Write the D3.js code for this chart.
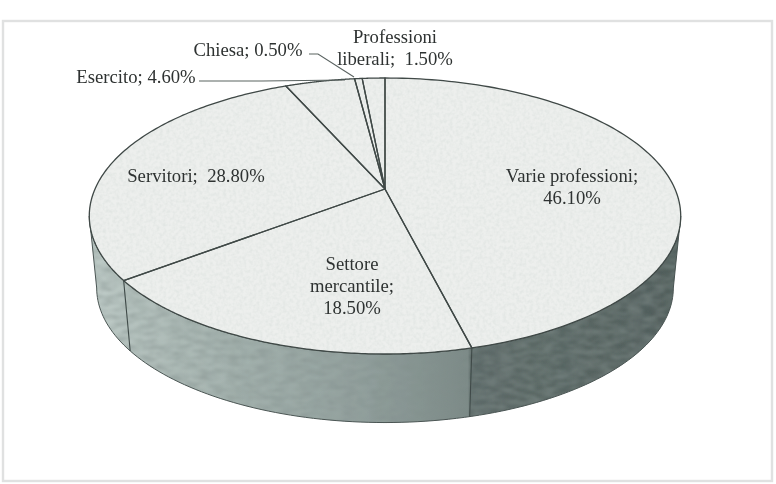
<!DOCTYPE html>
<html><head><meta charset="utf-8">
<script src="https://cdn.jsdelivr.net/npm/d3@7"></script>
<style>html,body{margin:0;padding:0;background:#fff}svg{display:block}text{font-family:"Liberation Serif",serif;font-size:18.7px;fill:#2e3231}</style>
</head><body><svg id="c" width="776" height="484"></svg>
<script>
const categories=["Varie professioni","Settore mercantile","Servitori","Esercito","Chiesa","Professioni liberali"];
const values=[46.1,18.5,28.8,4.6,0.5,1.5];
const labelLines=[["Varie professioni;","46.10%"],["Settore","mercantile;","18.50%"],["Servitori;  28.80%"],["Esercito; 4.60%"],["Chiesa; 0.50%"],["Professioni","liberali;  1.50%"]];
const labelAnchors=[[572,182],[352,270],[196,182],[136,83],[248,56],[395,43]];
const leaderPaths=[null,null,null,[[199,81],[262,81],[345,80]],[[309,54],[318,54],[354,77]],null];

const svg=d3.select("#c");
const defs=svg.append("defs");
svg.append("rect").attr("x",3).attr("y",21).attr("width",769).attr("height",460).attr("fill","#fff").attr("stroke","#e0e1e1").attr("stroke-width",2.4);

const cx=385,cyTop=216,ry=138,rx=290,persp=27/138,depth=72,shrink=0.975;
const proj=(a,r=1,bottom=false)=>{
  const u=Math.sin(a)*r,v=Math.cos(a)*r,d=1+persp*v;
  const X=rx*u/d,Y=(ry*v+27)/d;
  return bottom?[cx+X*shrink,cyTop+depth-Y*shrink]:[cx+X,cyTop-Y];
};
const arcs=d3.pie().sort(null).value(d=>d)(values);
const line=d3.line();
const sample=(a0,a1,bottom=false)=>d3.range(0,121).map(i=>proj(a0+(a1-a0)*i/120,1,bottom));

const grain=defs.append("filter").attr("id","grain").attr("x",0).attr("y",0).attr("width",1).attr("height",1);
grain.append("feTurbulence").attr("type","fractalNoise").attr("baseFrequency",0.3).attr("numOctaves",2).attr("seed",4).attr("result","n");
grain.append("feColorMatrix").attr("in","n").attr("type","matrix").attr("values","0 0 0 0 0.72  0 0 0 0 0.76  0 0 0 0 0.74  1.4 0 0 0 -0.5").attr("result","m");
grain.append("feGaussianBlur").attr("in","m").attr("stdDeviation",0.7).attr("result","b");
grain.append("feComposite").attr("in","b").attr("in2","SourceAlpha").attr("operator","in").attr("result","c");
grain.append("feMerge").selectAll("feMergeNode").data(["SourceGraphic","c"]).enter().append("feMergeNode").attr("in",d=>d);
const streak=defs.append("filter").attr("id","streak").attr("x",0).attr("y",0).attr("width",1).attr("height",1);
streak.append("feTurbulence").attr("type","fractalNoise").attr("baseFrequency","0.07 0.2").attr("numOctaves",3).attr("seed",9).attr("result","n");
streak.append("feColorMatrix").attr("in","n").attr("type","matrix").attr("values","0 0 0 0 0.22  0 0 0 0 0.27  0 0 0 0 0.26  1.0 0 0 0 -0.3").attr("result","m");
streak.append("feGaussianBlur").attr("in","m").attr("stdDeviation",1).attr("result","b");
streak.append("feComposite").attr("in","b").attr("in2","SourceAlpha").attr("operator","in").attr("result","c");
streak.append("feMerge").selectAll("feMergeNode").data(["SourceGraphic","c"]).enter().append("feMergeNode").attr("in",d=>d);
const soft=defs.append("filter").attr("id","soft");
soft.append("feGaussianBlur").attr("stdDeviation",0.4);

const sideGrad=defs.append("linearGradient").attr("id","side").attr("gradientUnits","userSpaceOnUse").attr("x1",89).attr("x2",681).attr("y1",0).attr("y2",0);
[[0,"#c2cfcb"],[0.07,"#b6c3bf"],[0.25,"#a4b2ae"],[0.45,"#94a29f"],[0.64,"#7c8a87"],[0.645,"#5c6967"],[0.85,"#586562"],[1,"#505d5b"]]
 .forEach(s=>sideGrad.append("stop").attr("offset",s[0]).attr("stop-color",s[1]));

const g=svg.append("g").attr("filter","url(#soft)");
const aRight=Math.PI/2+Math.asin(persp),aLeft=2*Math.PI-aRight;
const frontTop=sample(aRight,aLeft),frontBottom=sample(aRight,aLeft,true).reverse();
const wall=line(frontTop.concat(frontBottom))+"Z";
g.append("path").attr("d",wall).attr("fill","url(#side)").attr("filter","url(#streak)");
g.append("path").attr("d",wall).attr("fill","none").attr("stroke","#4a5553").attr("stroke-width",1);
arcs.forEach(a=>{
  if(a.endAngle>aRight&&a.endAngle<aLeft){
    g.append("line").attr("x1",proj(a.endAngle)[0]).attr("y1",proj(a.endAngle)[1])
     .attr("x2",proj(a.endAngle,1,true)[0]).attr("y2",proj(a.endAngle,1,true)[1])
     .attr("stroke","#3f4a48").attr("stroke-width",1.1);
  }
});
const slicePath=a=>line([proj(0,0)].concat(sample(a.startAngle,a.endAngle)))+"Z";
g.selectAll("path.slice").data(arcs).enter().append("path").attr("class","slice")
 .attr("d",slicePath).attr("fill","#edefed").attr("filter","url(#grain)");
g.selectAll("path.edge").data(arcs).enter().append("path").attr("class","edge")
 .attr("d",slicePath).attr("fill","none").attr("stroke","#3f4846").attr("stroke-width",1.3).attr("stroke-linejoin","round");
leaderPaths.forEach(p=>{ if(p) g.append("path").attr("d",line(p)).attr("fill","none").attr("stroke","#5a6361").attr("stroke-width",1.1); });
labelLines.forEach((ls,i)=>{
  const t=g.append("text").attr("text-anchor","middle").attr("x",labelAnchors[i][0]).attr("y",labelAnchors[i][1]);
  ls.forEach((s,j)=>t.append("tspan").attr("x",labelAnchors[i][0]).attr("dy",j?22:0).attr("xml:space","preserve").style("white-space","pre").text(s));
});
</script></body></html>
